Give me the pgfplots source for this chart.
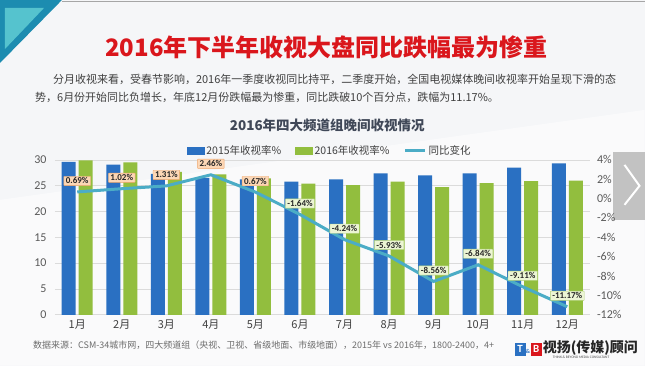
\documentclass[border=0pt]{standalone}
\usepackage{pgfplots}
\pgfplotsset{compat=1.18}
\usepackage{fontspec}
\setmainfont{Carlito}
\newfontfamily\cjk{Noto Sans CJK SC}
\definecolor{bgc}{RGB}{245,246,248}
\definecolor{barblue}{RGB}{42,112,194}
\definecolor{bargreen}{RGB}{146,190,62}
\definecolor{lineteal}{RGB}{75,172,198}
\definecolor{posfill}{RGB}{252,215,182}
\definecolor{posdraw}{RGB}{240,165,105}
\definecolor{negfill}{RGB}{236,245,212}
\definecolor{negdraw}{RGB}{176,208,118}
\definecolor{headred}{RGB}{218,22,28}
\definecolor{bodygray}{RGB}{64,64,64}
\definecolor{tickgray}{RGB}{89,89,89}
\definecolor{titlegray}{RGB}{64,72,88}
\definecolor{tealdark}{RGB}{28,140,176}
\definecolor{teallight}{RGB}{85,195,206}
\begin{document}
\begin{tikzpicture}[x=1pt,y=1pt]
% background and decorations
\fill[bgc] (0,0) rectangle (645,-366);
\fill[white,opacity=0.5] (0,-200) -- (645,-110) -- (645,-366) -- (0,-366) -- cycle;
\fill[tealdark] (0,0) -- (62,0) -- (0,-63) -- cycle;
\fill[teallight] (5,-8) -- (44,-8) -- (5,-49) -- cycle;
\draw[gray!70,line width=1pt] (62,-1.5) -- (645,-1.5);
% texts
\node[font=\cjk\bfseries\fontsize{24}{25}\selectfont, text=headred] at (326.5,-47) {2016年下半年收视大盘同比跌幅最为惨重};
\node[anchor=west, inner sep=0, font=\cjk\fontsize{11}{11}\selectfont, text=bodygray] at (53,-79) {分月收视来看，受春节影响，2016年一季度收视同比持平，二季度开始，全国电视媒体晚间收视率开始呈现下滑的态};
\node[anchor=west, inner sep=0, font=\cjk\fontsize{11}{11}\selectfont, text=bodygray] at (35,-98) {势，6月份开始同比负增长，年底12月份跌幅最为惨重，同比跌破10个百分点，跌幅为11.17\%。};
\node[font=\cjk\bfseries\fontsize{13.5}{14}\selectfont, text=titlegray] at (327.5,-125) {2016年四大频道组晚间收视情况};
\node[anchor=west, inner sep=0, font=\cjk\fontsize{9}{9}\selectfont, text=gray!85!black] at (33,-345) {数据来源：CSM-34城市网，四大频道组（央视、卫视、省级地面、市级地面），2015年 vs 2016年，1800-2400，4+};
% logo
\fill[barblue] (515,-343) rectangle (526,-356);
\node[text=white, font=\bfseries\fontsize{11}{11}\selectfont, inner sep=0] at (520.5,-349.5) {T};
\node[text=barblue, font=\bfseries\fontsize{6}{6}\selectfont, inner sep=0] at (528.5,-352) {\&};
\fill[headred] (531,-343) rectangle (542,-356);
\node[text=white, font=\bfseries\fontsize{11}{11}\selectfont, inner sep=0] at (536.5,-349.5) {B};
\node[anchor=west, inner sep=0, font=\cjk\bfseries\fontsize{14}{14}\selectfont, text=black!85] at (543,-348) {视扬(传媒)顾问};
\node[anchor=west, inner sep=0, font=\fontsize{3.6}{4}\selectfont, text=black!70] at (553,-357.5) {THINK \& BEYOND MEDIA CONSULTANT};
% overlay arrow box
\fill[gray!55,opacity=0.85] (613,-152) rectangle (645,-220);
\draw[white,line width=2pt] (625,-165) -- (640,-186) -- (625,-205);
% left axis with bars
\begin{axis}[at={(55pt,-315pt)}, anchor=south west, scale only axis,
  width=535pt, height=155pt,
  xmin=0.5, xmax=12.5, ymin=0, ymax=30,
  ytick={0,5,...,30}, xtick={1,...,12},
  xticklabels={1月,2月,3月,4月,5月,6月,7月,8月,9月,10月,11月,12月},
  xticklabel style={font=\cjk\fontsize{11}{11}\selectfont, text=bodygray, yshift=-2pt},
  yticklabel style={font=\fontsize{12}{12}\selectfont, text=tickgray, xshift=-5pt},
  /pgf/number format/assume math mode=true,
  major tick length=0pt,
  axis line style={draw=none},
  ymajorgrids, grid style={gray!28, line width=0.6pt},
  clip=false]
\addplot[ybar, bar width=14pt, bar shift=-8.5pt, fill=barblue, draw=none] coordinates {
(1,29.6) (2,29.1) (3,27.3) (4,26.5) (5,26.2) (6,25.8) (7,26.2) (8,27.4) (9,27.0) (10,27.4) (11,28.5) (12,29.3)};
\addplot[ybar, bar width=14pt, bar shift=8.5pt, fill=bargreen, draw=none] coordinates {
(1,29.9) (2,29.5) (3,27.7) (4,27.2) (5,26.4) (6,25.4) (7,25.1) (8,25.8) (9,24.7) (10,25.5) (11,25.9) (12,26.0)};
\end{axis}
% right axis with line
\begin{axis}[at={(55pt,-315pt)}, anchor=south west, scale only axis,
  width=535pt, height=155pt,
  xmin=0.5, xmax=12.5, ymin=-12, ymax=4,
  axis x line=none, axis y line*=right,
  y axis line style={draw=none},
  ytick={-12,-10,...,4},
  yticklabel={\pgfmathprintnumber{\tick}\%},
  yticklabel style={font=\fontsize{12}{12}\selectfont, text=tickgray, xshift=4pt},
  /pgf/number format/assume math mode=true,
  major tick length=0pt,
  clip=false,
  legend style={at={(0.514,1)}, anchor=south, yshift=0pt, draw=none, fill=none,
    legend columns=3, font=\cjk\fontsize{10.5}{11}\selectfont, text=bodygray,
    /tikz/every even column/.append style={column sep=12pt}},
  legend cell align=left]
\addlegendimage{legend image code/.code={\fill[barblue] (0pt,-3.5pt) rectangle (17pt,3.5pt);}}
\addlegendimage{legend image code/.code={\fill[bargreen] (0pt,-3.5pt) rectangle (17pt,3.5pt);}}
\addlegendimage{legend image code/.code={\draw[lineteal, line width=3pt] (0pt,0pt) -- (20pt,0pt);}}
\addplot[forget plot, lineteal, line width=3pt, mark=none] coordinates {
(1,0.69) (2,1.02) (3,1.31) (4,2.46) (5,0.67) (6,-1.64) (7,-4.24) (8,-5.93) (9,-8.56) (10,-6.84) (11,-9.11) (12,-11.17)};
\addplot[forget plot, draw=none, mark=none, point meta=y,
  nodes near coords={\pgfmathprintnumber[fixed,fixed zerofill,precision=2]{\pgfplotspointmeta}\%},
  nodes near coords style={anchor=center, yshift=11pt, font=\bfseries\fontsize{9}{9}\selectfont, text=black!85,
    fill=posfill, draw=posdraw, inner xsep=2pt, inner ysep=1.5pt, rounded corners=0.5pt}]
  coordinates {(1,0.69) (2,1.02) (3,1.31) (4,2.46) (5,0.67)};
\addplot[forget plot, draw=none, mark=none, point meta=y,
  nodes near coords={\pgfmathprintnumber[fixed,fixed zerofill,precision=2]{\pgfplotspointmeta}\%},
  nodes near coords style={anchor=center, yshift=11pt, font=\bfseries\fontsize{9}{9}\selectfont, text=black!85,
    fill=negfill, draw=negdraw, inner xsep=2pt, inner ysep=1.5pt, rounded corners=0.5pt}]
  coordinates {(6,-1.64) (7,-4.24) (8,-5.93) (9,-8.56) (10,-6.84) (11,-9.11) (12,-11.17)};
\legend{2015年收视率\%,2016年收视率\%,同比变化}
\end{axis}
\end{tikzpicture}
\end{document}
